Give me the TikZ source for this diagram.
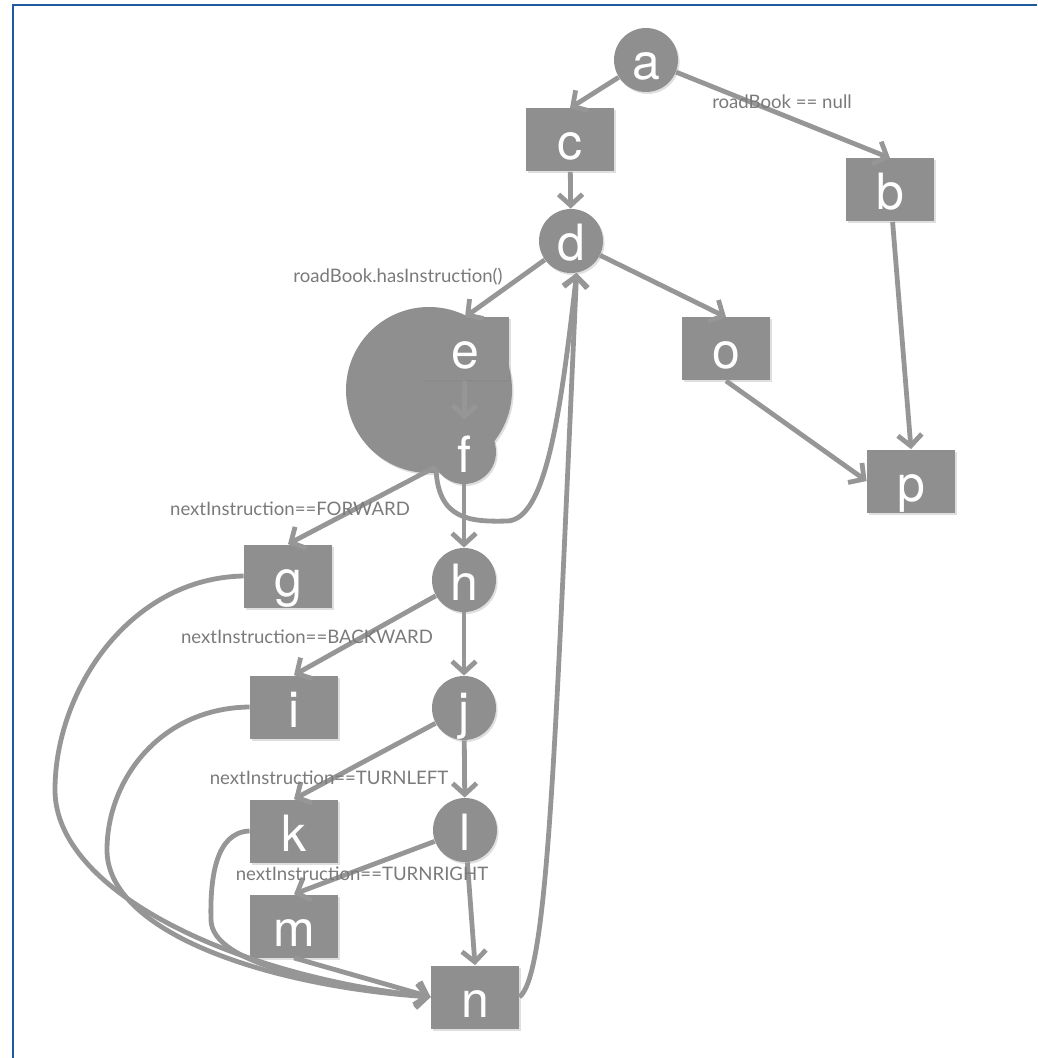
\documentclass[tikz,border=0pt]{standalone}
\usepackage{fontspec}
\setmainfont{Liberation Sans}
\newfontfamily\letterfont{TeX Gyre Heros}
\newfontfamily\condfont{Lato}
\usetikzlibrary{arrows.meta,shadows}
\definecolor{nodegray}{RGB}{143,143,143}
\definecolor{edgegray}{RGB}{150,150,150}
\definecolor{labelgray}{RGB}{122,122,122}
\definecolor{frameblue}{RGB}{30,90,160}

\begin{document}
\begin{tikzpicture}[x=0.5pt,y=-0.5pt,
shade/.style={drop shadow={shadow xshift=0.8pt,shadow yshift=-1pt,opacity=0.25}},
box/.style={shade,fill=nodegray,minimum width=44pt,minimum height=31.5pt,inner sep=0pt,text=white,text height=24pt,text depth=4pt,font=\letterfont\fontsize{25}{25}\selectfont},
cnode/.style={shade,circle,fill=nodegray,minimum size=32pt,inner sep=0pt,text=white,text height=24pt,text depth=4pt,font=\letterfont\fontsize{25}{25}\selectfont},
cond/.style={text=labelgray,inner sep=0pt,font=\condfont\fontsize{9.3}{11}\selectfont},
arr/.style={draw=edgegray,line width=2.4pt,-{Straight Barb[length=5.5pt,width=12pt]}}]
\useasboundingbox (0,0) rectangle (1037,1058);
\draw[frameblue,line width=1.2pt] (13,1058)--(13,5)--(1037,5);
\node[shade,circle,fill=nodegray,minimum size=83pt,inner sep=0pt] (blob) at (429,390) {};
\node[cnode] (a) at (646,60) {a};
\node[box] (c) at (570,140) {c};
\node[box] (b) at (890,190) {b};
\node[cnode] (d) at (571,241) {d};
\node[box] (e) at (465,349) {e};
\node[box] (o) at (726,349) {o};
\node[cnode] (f) at (464,452) {f};
\node[box] (p) at (911,481) {p};
\node[box] (g) at (288,576) {g};
\node[cnode] (h) at (464,580) {h};
\node[box] (i) at (294,707) {i};
\node[cnode] (j) at (464,708) {j};
\node[box] (k) at (294,831) {k};
\node[cnode] (l) at (465,830) {l};
\node[box] (m) at (294,926) {m};
\node[box] (n) at (475,997) {n};
\draw[arr] (a)--(c.north);
\draw[arr] (a)--(b.north);
\draw[arr] (c)--(d);
\draw[arr] (b)--(p.north);
\draw[arr] (d)--(e.north);
\draw[arr] (d)--(o.north);
\draw[arr] (o.south)--(p.west);
\draw[arr] (e)--(f);
\draw[arr] (f)--(g.north);
\draw[arr] (f)--(h);
\draw[arr] (f.210) .. controls (438,520) and (470,522) .. (508,521) .. controls (545,518) and (560,420) .. (d.280);
\draw[arr] (h)--(i.north);
\draw[arr] (h)--(j);
\draw[arr] (j)--(k.north);
\draw[arr] (j)--(l);
\draw[arr] (l)--(m.north);
\draw[arr] (l)--(n.north);
\draw[arr] (m.south)--(n.west);
\draw[arr] (g.west) .. controls (130,578) and (55,690) .. (55,790) .. controls (55,890) and (230,975) .. (n.west);
\draw[arr] (i.west) .. controls (160,708) and (107,780) .. (107,850) .. controls (107,930) and (260,985) .. (n.west);
\draw[arr] (k.west) .. controls (215,832) and (210,880) .. (211,920) .. controls (212,965) and (330,985) .. (n.west);
\draw[arr] (n.east) .. controls (548,975) and (555,750) .. (d.280);
\node[cond] (cnull) at (782,102) {roadBook == null};
\node[cond] (chas) at (398,277) {roadBook.hasInstruction()};
\node[cond] (cfwd) at (290,509) {nextInstruction==FORWARD};
\node[cond] (cbwd) at (307,637) {nextInstruction==BACKWARD};
\node[cond] (cleft) at (329,778) {nextInstruction==TURNLEFT};
\node[cond] (cright) at (362,874) {nextInstruction==TURNRIGHT};
\end{tikzpicture}
\end{document}
